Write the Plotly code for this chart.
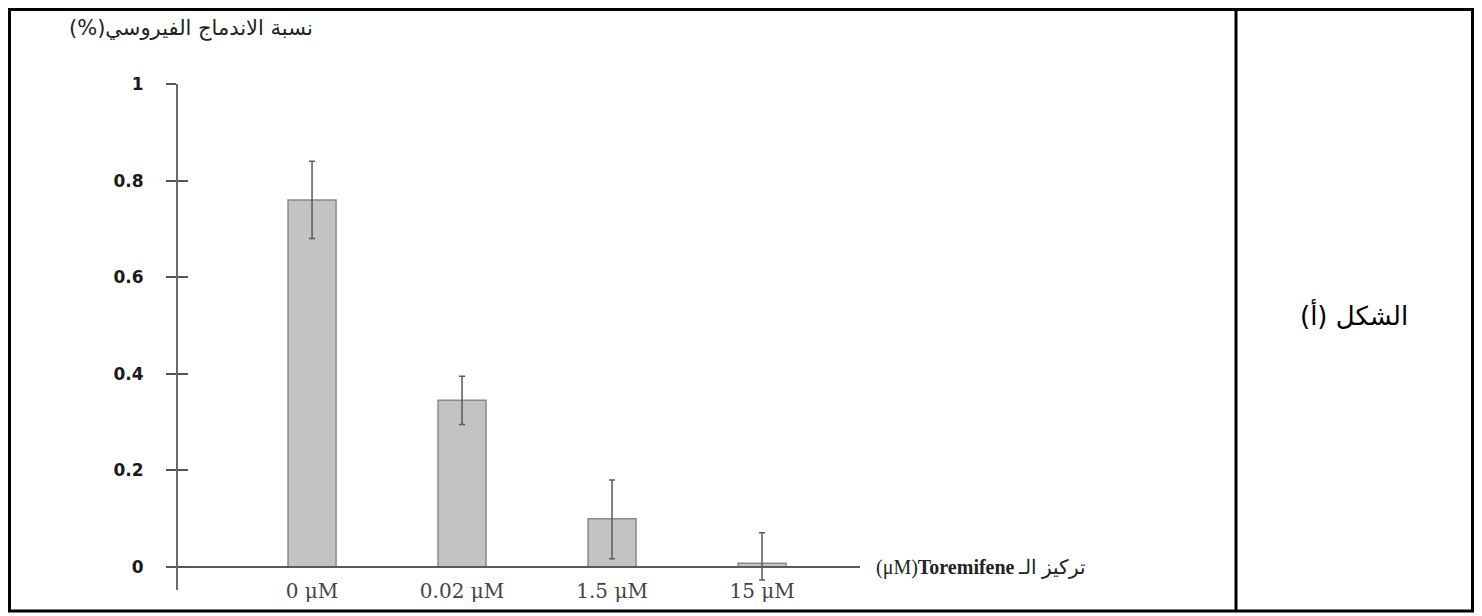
import plotly.graph_objects as go

# ---- data ----
categories = ["0 μM", "0.02 μM", "1.5 μM", "15 μM"]
fusion_values = [0.76, 0.345, 0.10, 0.008]
fusion_errors_plus = [0.08, 0.05, 0.08, 0.063]
fusion_errors_minus = [0.08, 0.05, 0.083, 0.035]
y_tick_values = [0, 0.2, 0.4, 0.6, 0.8, 1]
y_tick_labels = ["0", "0.2", "0.4", "0.6", "0.8", "1"]

# page has an 8px body margin -> figure placed at (8, 8)
OFF = 8
W, H = 1466, 608

def px(x):
    return (x - OFF) / W

def py(y):
    return 1 - (y - OFF) / H

fig = go.Figure()
fig.add_trace(go.Bar(
    x=categories, y=fusion_values, width=0.32,
    marker=dict(color="#c3c3c3", line=dict(color="#8a8a8a", width=1.5)),
    error_y=dict(type="data", symmetric=False, array=fusion_errors_plus,
                 arrayminus=fusion_errors_minus, visible=True,
                 color="#5a5a5a", thickness=1.5, width=3),
    showlegend=False, hoverinfo="skip",
))
# invisible trace carrying the overlay axis with inward ticks
fig.add_trace(go.Scatter(x=[categories[0]], y=[0], yaxis="y2", mode="markers",
                         marker=dict(opacity=0), showlegend=False, hoverinfo="skip"))

yrange = [-0.0476, 1.0]
ydomain = [py(590), py(84)]

fig.update_layout(
    width=W, height=H,
    margin=dict(l=0, r=0, t=0, b=0, autoexpand=False),
    paper_bgcolor="white", plot_bgcolor="white",
    xaxis=dict(
        domain=[px(167), px(860)], range=[-0.967, 3.653],
        anchor="free", position=py(567),
        showline=True, linecolor="#5a5a5a", linewidth=2,
        showgrid=False, zeroline=False, ticks="",
        tickfont=dict(family="DejaVu Serif", size=20, color="#444444"),
        ticklabelstandoff=6,
        automargin=False,
    ),
    yaxis=dict(
        domain=ydomain, range=yrange,
        anchor="free", position=px(177),
        showline=True, linecolor="#6a6a6a", linewidth=2,
        showgrid=False, zeroline=False,
        ticks="outside", ticklen=10, tickwidth=2, tickcolor="#555555",
        tickvals=y_tick_values, ticktext=y_tick_labels,
        tickfont=dict(family="DejaVu Sans", size=17, color="#1a1a1a", weight="bold"),
        ticklabelstandoff=19,
        automargin=False,
    ),
    yaxis2=dict(
        domain=ydomain, range=yrange, overlaying="y",
        anchor="free", position=px(177),
        showline=False, showgrid=False, zeroline=False,
        ticks="inside", ticklen=10, tickwidth=2, tickcolor="#555555",
        tickvals=y_tick_values, showticklabels=False,
        automargin=False,
    ),
    shapes=[
        dict(type="rect", xref="paper", yref="paper",
             x0=px(9.5), x1=px(1472.5), y0=py(611), y1=py(9.5),
             line=dict(color="black", width=3)),
        dict(type="line", xref="paper", yref="paper",
             x0=px(1236), x1=px(1236), y0=py(611), y1=py(9.5),
             line=dict(color="black", width=3)),
    ],
    annotations=[
        dict(text="نسبة الاندماج الفيروسي(%)\u200f", xref="paper", yref="paper",
             x=px(191), y=py(29), xanchor="center", yanchor="middle", showarrow=False,
             font=dict(family="DejaVu Sans", size=21, color="#222222")),
        dict(text="(μM)<b>Toremifene</b> تركيز الـ", xref="paper", yref="paper",
             x=px(874), y=py(567), xanchor="left", yanchor="middle", showarrow=False,
             font=dict(family="Liberation Serif", size=20, color="#222222")),
        dict(text="الشكل (أ)\u200f", xref="paper", yref="paper",
             x=px(1354), y=py(314), xanchor="center", yanchor="middle", showarrow=False,
             font=dict(family="DejaVu Sans", size=26, color="black")),
    ],
)

fig.write_html("out.html")
